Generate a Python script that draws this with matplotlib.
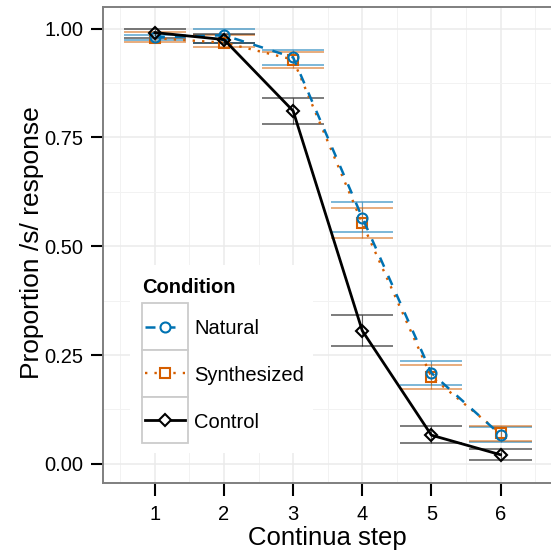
import matplotlib
matplotlib.use("Agg")
import matplotlib.pyplot as plt
from matplotlib.lines import Line2D
from matplotlib.patches import Rectangle
import numpy as np

plt.rcParams['font.family'] = ['Liberation Sans', 'DejaVu Sans']

# ---------------- data ----------------
steps = [1, 2, 3, 4, 5, 6]
conditions = ["Natural", "Synthesized", "Control"]

natural_mean = [0.980, 0.985, 0.934, 0.566, 0.209, 0.067]
natural_lo = [0.975, 0.967, 0.917, 0.532, 0.181, 0.051]
natural_hi = [0.985, 0.999, 0.951, 0.601, 0.237, 0.084]

synth_mean = [0.978, 0.968, 0.929, 0.553, 0.200, 0.070]
synth_lo = [0.970, 0.957, 0.910, 0.518, 0.172, 0.053]
synth_hi = [0.992, 0.985, 0.947, 0.589, 0.228, 0.088]

control_mean = [0.991, 0.975, 0.811, 0.306, 0.066, 0.021]
control_lo = [0.979, 0.966, 0.782, 0.272, 0.047, 0.009]
control_hi = [1.000, 0.987, 0.840, 0.341, 0.086, 0.034]

xticks = [1, 2, 3, 4, 5, 6]
yticks = [0.00, 0.25, 0.50, 0.75, 1.00]
ytick_labels = ["0.00", "0.25", "0.50", "0.75", "1.00"]

# ---------------- style ----------------
W, H = 551, 552
colors = {"Natural": "#0072B2", "Synthesized": "#D55E00", "Control": "#000000"}
markers = {"Natural": "o", "Synthesized": "s", "Control": "D"}
msizes = {"Natural": 7.2, "Synthesized": 7.0, "Control": 6.4}
lstyles = {"Natural": (0, (4, 4)), "Synthesized": (0, (1, 3)), "Control": "-"}
lwidths = {"Natural": 1.8, "Synthesized": 1.7, "Control": 2.0}
zorders = {"Synthesized": 3, "Natural": 4, "Control": 5}

series = {
    "Natural": (natural_mean, natural_lo, natural_hi),
    "Synthesized": (synth_mean, synth_lo, synth_hi),
    "Control": (control_mean, control_lo, control_hi),
}

fig = plt.figure(figsize=(W / 100, H / 100), dpi=100)
ax = fig.add_axes([103.4 / W, 69.1 / H, (552.0 - 103.4) / W, (482.9 - 6.7) / H])

ax.set_xlim(0.255, 6.745)
ax.set_ylim(-0.0437, 1.0505)

# grid
ax.set_xticks(xticks)
ax.set_xticks([0.5, 1.5, 2.5, 3.5, 4.5, 5.5, 6.5], minor=True)
ax.set_yticks(yticks)
ax.set_yticks([0.125, 0.375, 0.625, 0.875], minor=True)
ax.set_yticklabels(ytick_labels)
ax.grid(True, which="major", color="#EBEBEB", lw=1.1, zorder=0)
ax.grid(True, which="minor", color="#F2F2F2", lw=0.7, zorder=0)
ax.set_axisbelow(True)

ax.tick_params(which="major", direction="out", length=9, width=1.5, color="black",
               labelsize=14.5, labelcolor="black")
ax.tick_params(axis="x", pad=7)
ax.tick_params(axis="y", pad=5.3)
ax.tick_params(which="minor", length=0)

for s in ax.spines.values():
    s.set_color("#7F7F7F")
    s.set_linewidth(1.4)
ax.spines["right"].set_visible(False)

# error bars
hw = 0.45
for name in conditions:
    m, lo, hi = series[name]
    c = colors[name]
    a = 0.6
    ax.hlines(lo, np.array(steps) - hw, np.array(steps) + hw, color=c, alpha=a, lw=1.2, zorder=2)
    ax.hlines(hi, np.array(steps) - hw, np.array(steps) + hw, color=c, alpha=a, lw=1.2, zorder=2)
    ax.vlines(steps, lo, hi, color=c, alpha=a, lw=0.8, zorder=2)

# lines + points
for name in conditions:
    m, lo, hi = series[name]
    ax.plot(steps, m, color=colors[name], lw=lwidths[name], linestyle=lstyles[name],
            marker=markers[name], ms=msizes[name], mfc="none", mew=1.5,
            mec=colors[name], zorder=zorders[name])

ax.set_xlabel("Continua step", fontsize=18.5)
ax.set_ylabel("Proportion /s/ response", fontsize=19)
ax.xaxis.set_label_coords(0.5, -(526.5 - 482.9) / (482.9 - 6.7))
ax.yaxis.set_label_coords((44.0 - 103.4) / (552.0 - 103.4), 0.505)

# ---------------- legend (manual, ggplot style) ----------------
def fx(x):
    return x / W

def fy(y):
    return 1 - y / H

fig.add_artist(Rectangle((fx(130), fy(453)), (313 - 130) / W, (453 - 265) / H,
                         transform=fig.transFigure, facecolor="white",
                         edgecolor="none", zorder=5))
fig.text(fx(142), fy(293.3), "Condition", fontsize=14.5, fontweight="bold",
         ha="left", va="baseline", zorder=6)

key_top = 303.3
key_h = 46.7
for i, name in enumerate(conditions):
    top = key_top + i * key_h
    cy = top + key_h / 2
    fig.add_artist(Rectangle((fx(141.7), fy(top + key_h)), (188.3 - 141.7) / W, key_h / H,
                             transform=fig.transFigure, facecolor="white",
                             edgecolor="#CCCCCC", lw=1.3, zorder=6))
    fig.add_artist(Line2D([fx(145), fx(184.5)], [fy(cy), fy(cy)], transform=fig.transFigure,
                          color=colors[name], lw=lwidths[name], linestyle=lstyles[name],
                          zorder=7))
    fig.add_artist(Line2D([fx(165)], [fy(cy)], transform=fig.transFigure,
                          color=colors[name], marker=markers[name], ms=msizes[name],
                          mfc="white", mec=colors[name], mew=1.5, linestyle="none", zorder=8))
    fig.text(fx(194), fy(cy), name, fontsize=14.5, ha="left", va="center_baseline", zorder=8)

fig.savefig("out.png", dpi=100)
